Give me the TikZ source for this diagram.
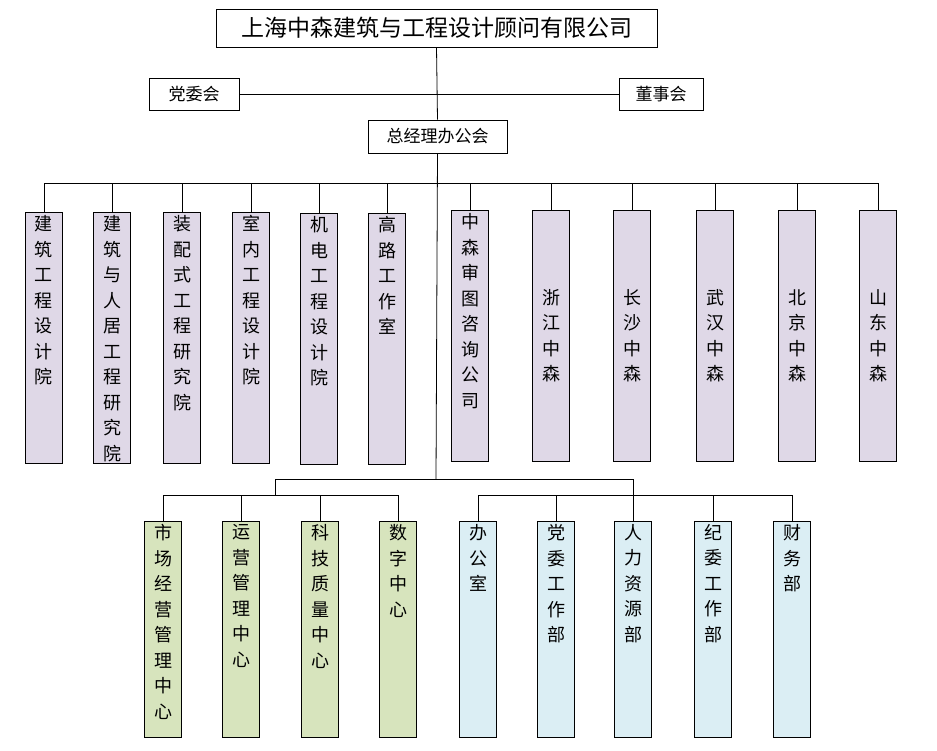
\documentclass[tikz,border=0pt]{standalone}
\usepackage{fontspec}
\setmainfont{Noto Sans CJK SC}
\definecolor{cpur}{HTML}{DFD8E7}
\definecolor{cgrn}{HTML}{D7E4BD}
\definecolor{cblu}{HTML}{DBEEF4}
\tikzset{
  hbox/.style={draw=black,thick,fill=white,inner sep=0pt,font=\fontsize{17}{18}\selectfont},
  vbox/.style={draw=black,thick,inner sep=0pt,anchor=north,minimum width=37pt,font=\fontsize{18}{25.5}\selectfont},
  pur/.style={vbox,fill=cpur},
  grn/.style={vbox,fill=cgrn},
  blu/.style={vbox,fill=cblu},
  ln/.style={draw=black,thick}
}
\newcommand{\vtxt}[2]{\parbox[t][#1][t]{20pt}{\centering\vspace*{3pt}#2}}
\newcommand{\vmtxt}[2]{\parbox[t][#1][c]{20pt}{\centering #2}}
\begin{document}
\begin{tikzpicture}[x=1pt,y=-1pt]
\useasboundingbox (0,0) rectangle (937,750);
\node[hbox,minimum width=441pt,minimum height=38pt,font=\fontsize{23}{24}\selectfont] (title) at (436.5,28) {上海中森建筑与工程设计顾问有限公司};
\node[hbox,minimum width=90pt,minimum height=32pt] (dw) at (194,94) {党委会};
\node[hbox,minimum width=84pt,minimum height=32pt] (ds) at (661,94) {董事会};
\node[hbox,minimum width=139pt,minimum height=33pt] (gm) at (437.5,136.5) {总经理办公会};
\draw[ln] (title.south) -- (gm.north);
\draw[ln] (dw.east) -- (ds.west);
% upper boxes
\node[pur] (u1) at (44,212) {\vtxt{251pt}{建\\筑\\工\\程\\设\\计\\院}};
\node[pur] (u2) at (112,212) {\vtxt{251pt}{建\\筑\\与\\人\\居\\工\\程\\研\\究\\院}};
\node[pur] (u3) at (182,212) {\vtxt{251pt}{装\\配\\式\\工\\程\\研\\究\\院}};
\node[pur] (u4) at (251,212) {\vtxt{251pt}{室\\内\\工\\程\\设\\计\\院}};
\node[pur] (u5) at (319,213) {\vtxt{251pt}{机\\电\\工\\程\\设\\计\\院}};
\node[pur] (u6) at (387,213) {\vtxt{251pt}{高\\路\\工\\作\\室}};
\node[pur] (u7) at (470,210) {\vtxt{251pt}{中\\森\\审\\图\\咨\\询\\公\\司}};
\node[pur] (u8) at (551,210) {\vmtxt{251pt}{浙\\江\\中\\森}};
\node[pur] (u9) at (632,210) {\vmtxt{251pt}{长\\沙\\中\\森}};
\node[pur] (u10) at (715,210) {\vmtxt{251pt}{武\\汉\\中\\森}};
\node[pur] (u11) at (797,210) {\vmtxt{251pt}{北\\京\\中\\森}};
\node[pur] (u12) at (878,210) {\vmtxt{251pt}{山\\东\\中\\森}};
\foreach \i in {1,...,12} \draw[ln] (gm.south) -- ++(0,30) -| (u\i.north);
% lower
\coordinate (J) at (436,479);
\coordinate (LJ) at (275,495);
\coordinate (RJ) at (633,495);
\node[grn] (l1) at (163,521) {\vtxt{216pt}{市\\场\\经\\营\\管\\理\\中\\心}};
\node[grn] (l2) at (241,521) {\vtxt{216pt}{运\\营\\管\\理\\中\\心}};
\node[grn] (l3) at (320,521) {\vtxt{216pt}{科\\技\\质\\量\\中\\心}};
\node[grn] (l4) at (398,521) {\vtxt{216pt}{数\\字\\中\\心}};
\node[blu] (r1) at (478,521) {\vtxt{216pt}{办\\公\\室}};
\node[blu] (r2) at (556,521) {\vtxt{216pt}{党\\委\\工\\作\\部}};
\node[blu] (r3) at (633,521) {\vtxt{216pt}{人\\力\\资\\源\\部}};
\node[blu] (r4) at (713,521) {\vtxt{216pt}{纪\\委\\工\\作\\部}};
\node[blu] (r5) at (792,521) {\vtxt{216pt}{财\\务\\部}};
\draw[ln] (gm.south) -- (J);
\draw[ln] (J) -| (LJ);
\draw[ln] (J) -| (r3.north);
\foreach \i in {1,...,4} \draw[ln] (LJ) -| (l\i.north);
\foreach \i in {1,...,5} \draw[ln] (RJ) -| (r\i.north);
\end{tikzpicture}
\end{document}
